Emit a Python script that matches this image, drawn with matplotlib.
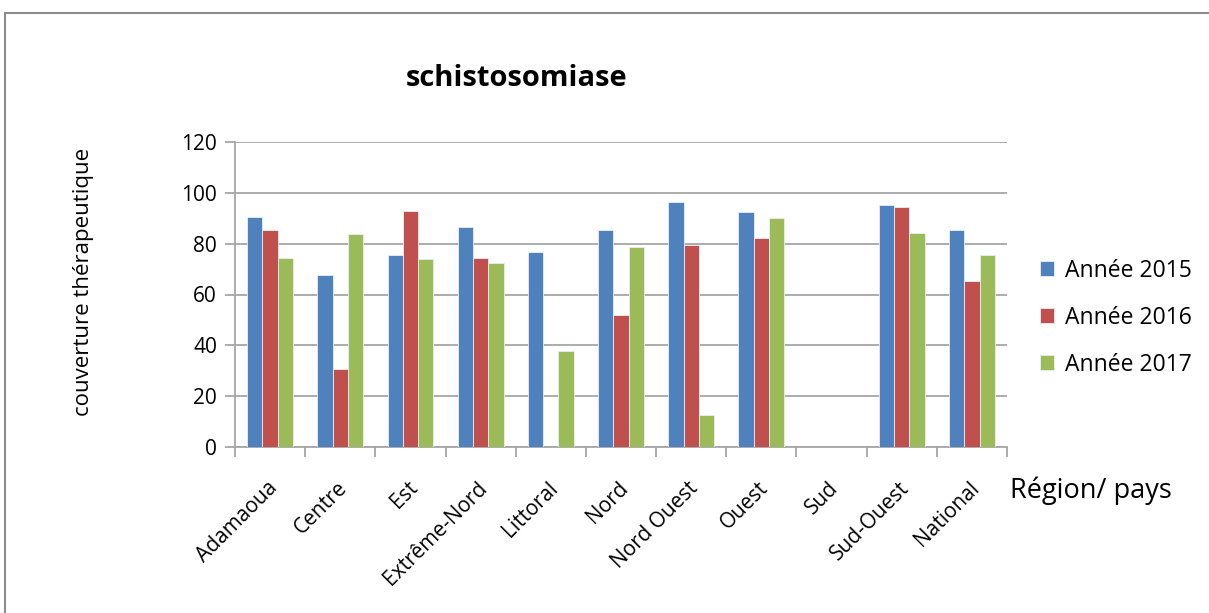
import numpy as np
import matplotlib.pyplot as plt
from matplotlib.patches import Rectangle

regions = ['Adamaoua', 'Centre', 'Est', 'Extrême-Nord', 'Littoral', 'Nord',
           'Nord Ouest', 'Ouest', 'Sud', 'Sud-Ouest', 'National']
annee_2015 = [90.4, 67.6, 75.5, 86.4, 76.7, 85.5, 96.2, 92.6, 0, 95.1, 85.3]
annee_2016 = [85.3, 30.5, 93.0, 74.2, 0, 52.0, 79.6, 82.1, 0, 94.3, 65.4]
annee_2017 = [74.2, 83.8, 73.8, 72.5, 37.9, 78.6, 12.6, 90.0, 0, 84.3, 75.5]
series_names = ['Année 2015', 'Année 2016', 'Année 2017']
colors = ['#4F81BD', '#C0504D', '#9BBB59']

plt.rcParams['font.family'] = ['Open Sans', 'DejaVu Sans']

fig = plt.figure(figsize=(12.09, 6.13), dpi=100)
ax = fig.add_axes([235 / 1209, 1 - 447 / 613, 772 / 1209, 305 / 613])

# outer frame of the chart
fig.patches.append(Rectangle((5 / 1209, -0.05), 1.1, 1 - 13 / 613 + 0.05,
                             transform=fig.transFigure, fill=False,
                             edgecolor='#8c8c8c', linewidth=1.5))

x = np.arange(len(regions))
width = 0.218
for i, (vals, name) in enumerate(zip([annee_2015, annee_2016, annee_2017], series_names)):
    ax.bar(x + (i - 1) * width, vals, width, color=colors[i], label=name,
           edgecolor='#e8eef7', linewidth=0.6, zorder=3)

ax.set_xlim(-0.5, len(regions) - 0.5)
ax.set_ylim(0, 120)
ax.set_yticks(range(0, 121, 20))
ax.grid(axis='y', color='#a6a6a6', linewidth=1.3, zorder=0)
ax.set_axisbelow(True)

for side in ['top', 'right']:
    ax.spines[side].set_visible(False)
for side in ['left', 'bottom']:
    ax.spines[side].set_color('#a6a6a6')
    ax.spines[side].set_linewidth(1.3)

ax.tick_params(axis='y', length=7, color='#a6a6a6', width=1.3, labelsize=15, pad=6)
ax.set_xticks(x - 0.05)
ax.set_xticklabels(regions, rotation=45, ha='right', rotation_mode='anchor',
                   fontsize=15)
ax.tick_params(axis='x', length=0, pad=22)
ax.set_xticks(np.arange(-0.5, len(regions)), minor=True)
ax.tick_params(axis='x', which='minor', length=7, color='#a6a6a6', width=1.3)

fig.text(84 / 1209, 1 - 282 / 613, 'couverture thérapeutique', fontsize=16,
         rotation=90, ha='center', va='center')
fig.text(1010 / 1209, 1 - 491 / 613, 'Région/ pays', fontsize=19.5, va='center')
fig.text(517 / 1209, 1 - 78 / 613, 'schistosomiase', fontsize=21,
         fontweight='bold', ha='center', va='center')

ax.legend(loc='center left', bbox_to_anchor=(1.016, 0.424), frameon=False,
          fontsize=16.5, handlelength=0.6, handleheight=0.6, handletextpad=0.5,
          labelspacing=1.0)

fig.savefig('out.png', dpi=100)
